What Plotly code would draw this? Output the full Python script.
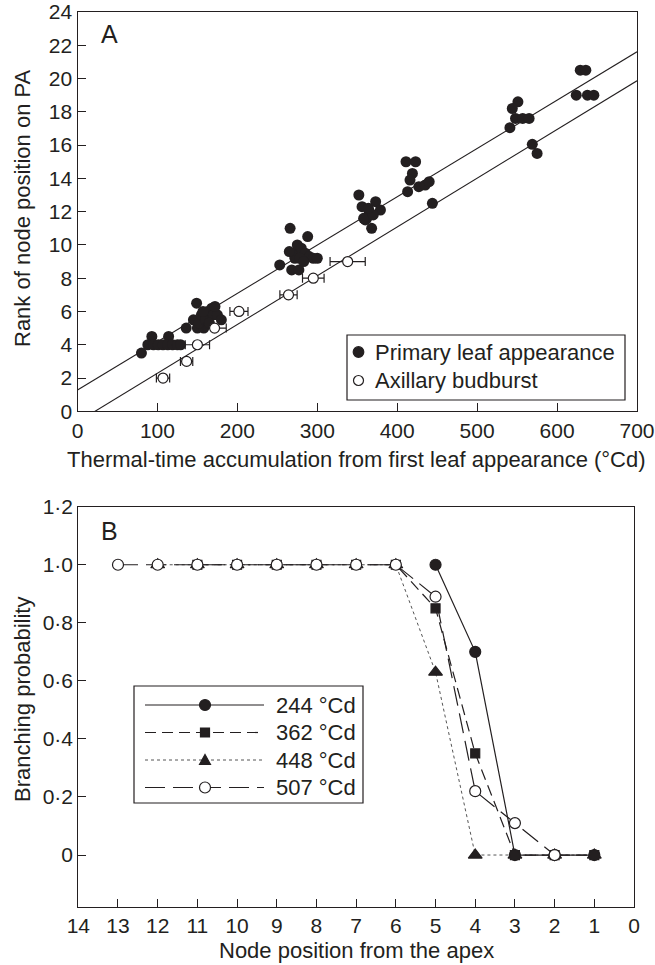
import plotly.graph_objects as go

W, H = 655, 965
INK = "#231f20"
FONT = "Liberation Sans, Arial, Helvetica, sans-serif"

# ---------------- Panel A data ----------------
primary_x = [80, 93, 114, 88, 95, 101, 107, 113, 119, 125, 129,
             136, 149, 150, 158, 145, 152, 155, 160, 163, 168, 170, 175, 180, 165, 157, 172,
             253, 266, 288, 268, 277, 270, 275, 280, 285, 272, 290, 278, 295, 265, 283, 300,
             352, 356, 362, 365, 360, 373, 379, 368, 358, 370, 364,
             411, 423, 419, 416, 413, 427, 435, 440, 444,
             551, 544, 548, 557, 565, 541, 569, 575,
             629, 636, 624, 638, 646]
primary_y = [3.5, 4.5, 4.5, 4, 4, 4, 4, 4, 4, 4, 4,
             5, 6.5, 5, 5, 5.5, 5.3, 5.8, 5.5, 6, 6.2, 5.8, 5.8, 5.5, 5.3, 6, 6.3,
             8.8, 11, 10.5, 8.5, 8.5, 9.5, 10, 9.8, 9.5, 9.2, 9.3, 9.2, 9.2, 9.6, 9.0, 9.2,
             13.0, 12.3, 11.6, 12.0, 11.5, 12.6, 12.1, 11.0, 11.6, 11.8, 12.2,
             15, 15, 14.3, 13.9, 13.2, 13.5, 13.6, 13.8, 12.5,
             18.6, 18.2, 17.6, 17.6, 17.6, 17.05, 16.05, 15.5,
             20.5, 20.5, 19.0, 19.0, 19.0]

budburst_x = [107, 136.5, 150, 171.5, 202, 264, 295, 338]
budburst_y = [2, 3, 4, 5, 6, 7, 8, 9]
budburst_err = [8.3, 7.7, 15.2, 14.6, 11.3, 10.8, 13.5, 22]

# regression fits (intercept, slope)
fit_primary = (1.28, 0.02904)
fit_budburst = (-0.642, 0.0293)
fit_x = [0, 700]

x_ticks_A = [0, 100, 200, 300, 400, 500, 600, 700]
y_ticks_A = list(range(0, 25, 2))

# ---------------- Panel B data ----------------
nodes = [13, 12, 11, 10, 9, 8, 7, 6, 5, 4, 3, 2, 1]
p244 = [None, None, None, None, None, None, None, None, 1.0, 0.70, 0.0, 0.0, 0.0]
p362 = [None, None, 1.0, 1.0, 1.0, 1.0, 1.0, 1.0, 0.85, 0.35, 0.0, 0.0, 0.0]
p448 = [None, 1.0, 1.0, 1.0, 1.0, 1.0, 1.0, 1.0, 0.63, 0.0, 0.0, 0.0, 0.0]
p507 = [1.0, 1.0, 1.0, 1.0, 1.0, 1.0, 1.0, 1.0, 0.89, 0.22, 0.11, 0.0, None]
x_ticks_B = list(range(0, 15))
y_ticks_B = [0, 0.2, 0.4, 0.6, 0.8, 1.0, 1.2]
y_ticktext_B = ["0", "0·2", "0·4", "0·6", "0·8", "1·0", "1·2"]


def pxx(x):
    return x / W


def pxy(y):
    return 1 - y / H


fig = go.Figure()

# Panel A lines
for (a, b) in (fit_primary, fit_budburst):
    fig.add_trace(go.Scatter(x=fit_x, y=[a + b * v for v in fit_x], mode="lines",
                             line=dict(color=INK, width=1.1), xaxis="x", yaxis="y",
                             showlegend=False, hoverinfo="skip"))
fig.add_trace(go.Scatter(x=primary_x, y=primary_y, mode="markers",
                         marker=dict(symbol="circle", size=11, color=INK, line=dict(width=0)),
                         xaxis="x", yaxis="y", showlegend=False, name="Primary leaf appearance"))
fig.add_trace(go.Scatter(x=budburst_x, y=budburst_y, mode="markers",
                         marker=dict(symbol="circle", size=10, color="white",
                                     line=dict(color=INK, width=1.2)),
                         error_x=dict(type="data", array=budburst_err, color=INK,
                                      thickness=1.2, width=4.5),
                         xaxis="x", yaxis="y", showlegend=False, name="Axillary budburst"))

# Panel B series
series_B = [
    ("448 °Cd", p448, "triangle-up", INK, INK, dict(color="#555", width=1, dash="dot"), 12),
    ("362 °Cd", p362, "square", INK, INK, dict(color=INK, width=1.2, dash="11px,6px"), 9),
    ("244 °Cd", p244, "circle", INK, INK, dict(color=INK, width=1.2), 11),
    ("507 °Cd", p507, "circle", "white", INK, dict(color=INK, width=1.2, dash="20px,8px"), 11),
]
for name, vals, sym, fill, edge, line, size in series_B:
    fig.add_trace(go.Scatter(x=nodes, y=vals, mode="lines+markers", name=name,
                             line=line, connectgaps=False,
                             marker=dict(symbol=sym, size=size, color=fill,
                                         line=dict(color=edge, width=1.2)),
                             xaxis="x2", yaxis="y2", showlegend=False))

axis_common = dict(showline=True, mirror=True, linecolor=INK, linewidth=1.2,
                   ticks="inside", ticklen=8, tickwidth=1.2, tickcolor=INK,
                   showgrid=False, zeroline=False, automargin=False,
                   tickfont=dict(family=FONT, size=21, color=INK))

fig.update_layout(
    width=W, height=H, margin=dict(l=0, r=0, t=0, b=0, pad=0, autoexpand=False),
    autosize=False,
    paper_bgcolor="white", plot_bgcolor="white",
    font=dict(family=FONT, color=INK),
    xaxis=dict(domain=[77.5 / W, 637 / W], range=[0, 700], tickvals=x_ticks_A,
               anchor="y", **axis_common),
    yaxis=dict(domain=[pxy(411.3), pxy(12)], range=[0, 24], tickvals=y_ticks_A,
               anchor="x", **axis_common),
    xaxis2=dict(domain=[78.3 / W, 634 / W], range=[14, 0], tickvals=x_ticks_B,
                anchor="y2", **axis_common),
    yaxis2=dict(domain=[pxy(906.7), pxy(506.7)], range=[-0.178, 1.2], tickvals=y_ticks_B,
                ticktext=y_ticktext_B, anchor="x2", **axis_common),
)

ann = []
shapes = []


def text(x, y, s, size=22, xanchor="center", textangle=0):
    ann.append(dict(x=pxx(x), y=pxy(y), xref="paper", yref="paper", text=s, showarrow=False,
                    xanchor=xanchor, yanchor="middle", textangle=textangle,
                    font=dict(family=FONT, size=size, color=INK)))


# axis titles
text(356, 460, "Thermal-time accumulation from first leaf appearance (°Cd)")
text(22, 208, "Rank of node position on PA", textangle=-90)
text(356, 950, "Node position from the apex")
text(22, 700, "Branching probability", textangle=-90)
# panel letters
text(99, 34, "A", size=25, xanchor="left")
text(99, 531, "B", size=25, xanchor="left")

# Legend A
shapes.append(dict(type="rect", xref="paper", yref="paper", x0=pxx(347), x1=pxx(625),
                   y0=pxy(335), y1=pxy(400), line=dict(color=INK, width=1.2), fillcolor="white"))


def marker_shape(cx, cy, kind, fill, r=5):
    base = dict(xref="paper", yref="paper", xsizemode="pixel", ysizemode="pixel",
                xanchor=pxx(cx), yanchor=pxy(cy), line=dict(color=INK, width=1.2), fillcolor=fill)
    if kind == "circle":
        base.update(type="circle", x0=-r, x1=r, y0=-r, y1=r)
    elif kind == "square":
        base.update(type="rect", x0=-4.5, x1=4.5, y0=-4.5, y1=4.5)
    else:
        base.update(type="path", path="M -5.5 -4.5 L 5.5 -4.5 L 0 5.5 Z")
    shapes.append(base)


marker_shape(358.5, 352, "circle", INK, r=5.3)
marker_shape(358.5, 380.5, "circle", "white", r=5)
text(373, 352, "Primary leaf appearance", xanchor="left")
text(373, 380.5, "Axillary budburst", xanchor="left")

# Legend B
shapes.append(dict(type="rect", xref="paper", yref="paper", x0=pxx(134), x1=pxx(363),
                   y0=pxy(686), y1=pxy(803), line=dict(color=INK, width=1.2), fillcolor="white"))
leg_rows = [("244 °Cd", 705, "circle", INK, dict(color=INK, width=1.2)),
            ("362 °Cd", 732.5, "square", INK, dict(color=INK, width=1.2, dash="11px,6px")),
            ("448 °Cd", 760, "triangle", INK, dict(color="#555", width=1, dash="dot")),
            ("507 °Cd", 787.5, "circle", "white", dict(color=INK, width=1.2, dash="20px,8px"))]
for label, yy, kind, fill, ln in leg_rows:
    shapes.append(dict(type="line", xref="paper", yref="paper", x0=pxx(145), x1=pxx(264),
                       y0=pxy(yy), y1=pxy(yy), line=ln))
    marker_shape(205, yy, kind, fill, r=5.5)
    text(274, yy, label, xanchor="left")

fig.update_layout(annotations=ann, shapes=shapes)
fig.write_html("out.html", config={"displayModeBar": False},
               post_script="document.body.style.margin='0';document.body.style.overflow='hidden';")
